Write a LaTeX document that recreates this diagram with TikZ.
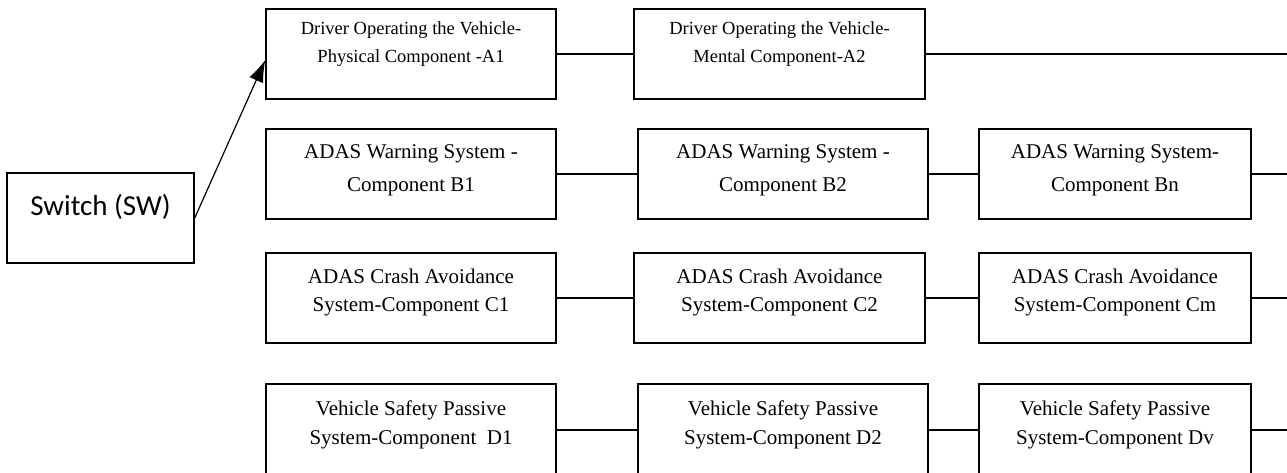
\documentclass[tikz,border=0pt]{standalone}
\usepackage{fontspec}
\setmainfont{Liberation Serif}
\newfontfamily\calibri{Carlito}
\usetikzlibrary{arrows.meta}

\begin{document}
\begin{tikzpicture}[x=1pt, y=-1pt, line width=1.4pt,
    comp/.style={draw, minimum width=290pt, minimum height=90pt, inner sep=0pt},
    txt/.style={anchor=north, align=center, inner sep=0pt},
    ta/.style={txt, yshift=-13pt, font=\fontsize{18.5}{28}\selectfont},
    tb/.style={txt, yshift=-15.8pt, font=\fontsize{21}{33}\selectfont},
    tc/.style={txt, yshift=-15.7pt, font=\fontsize{21}{28}\selectfont},
    td/.style={txt, yshift=-16.5pt, font=\fontsize{21}{29}\selectfont}]
    \useasboundingbox (0,0) rectangle (1287,472);

    % Switch
    \node[comp, minimum width=187pt,
      label={[anchor=base, inner sep=0pt, yshift=-43pt, font=\calibri\fontsize{29}{34}\selectfont]north:Switch (SW)}] (sw) at (100.5,218) {};

    % Row A
    \node[comp, label={[ta]north:{Driver Operating the Vehicle-\\Physical Component -A1}}] (a1) at (411,54) {};
    \node[comp, minimum width=291pt, label={[ta]north:{Driver Operating the Vehicle-\\Mental Component-A2}}] (a2) at (779.5,54) {};
    \coordinate (ea) at (1287,54);
    \draw (a1) -- (a2);
    \draw (a2) -- (ea);

    % Row B
    \node[comp, label={[tb]north:{ADAS Warning System -\\Component B1}}] (b1) at (411,174) {};
    \node[comp, label={[tb]north:{ADAS Warning System -\\Component B2}}] (b2) at (783,174) {};
    \node[comp, minimum width=272pt, label={[tb]north:{ADAS Warning System-\\Component Bn}}] (bn) at (1115,174) {};
    \coordinate (eb) at (1287,174);
    \draw (b1) -- (b2);
    \draw (b2) -- (bn);
    \draw (bn) -- (eb);

    % Row C
    \node[comp, label={[tc]north:{ADAS Crash Avoidance\\System-Component C1}}] (c1) at (411,298) {};
    \node[comp, minimum width=291pt, label={[tc]north:{ADAS Crash Avoidance\\System-Component C2}}] (c2) at (779.5,298) {};
    \node[comp, minimum width=272pt, label={[tc]north:{ADAS Crash Avoidance\\System-Component Cm}}] (cm) at (1115,298) {};
    \coordinate (ec) at (1287,298);
    \draw (c1) -- (c2);
    \draw (c2) -- (cm);
    \draw (cm) -- (ec);

    % Row D
    \node[comp, minimum height=92pt, label={[td]north:{Vehicle Safety Passive\\System-Component~ D1}}] (d1) at (411,430) {};
    \node[comp, minimum height=92pt, label={[td]north:{Vehicle Safety Passive\\System-Component D2}}] (d2) at (783,430) {};
    \node[comp, minimum height=92pt, minimum width=272pt, label={[td]north:{Vehicle Safety Passive\\System-Component Dv}}] (dv) at (1115,430) {};
    \coordinate (ed) at (1287,430);
    \draw (d1) -- (d2);
    \draw (d2) -- (dv);
    \draw (dv) -- (ed);

    % Switch to A1
    \draw[line width=1.2pt, -{Latex[length=22pt,width=15pt]}] (sw.east) -- ([yshift=-6pt]a1.west);
\end{tikzpicture}
\end{document}
